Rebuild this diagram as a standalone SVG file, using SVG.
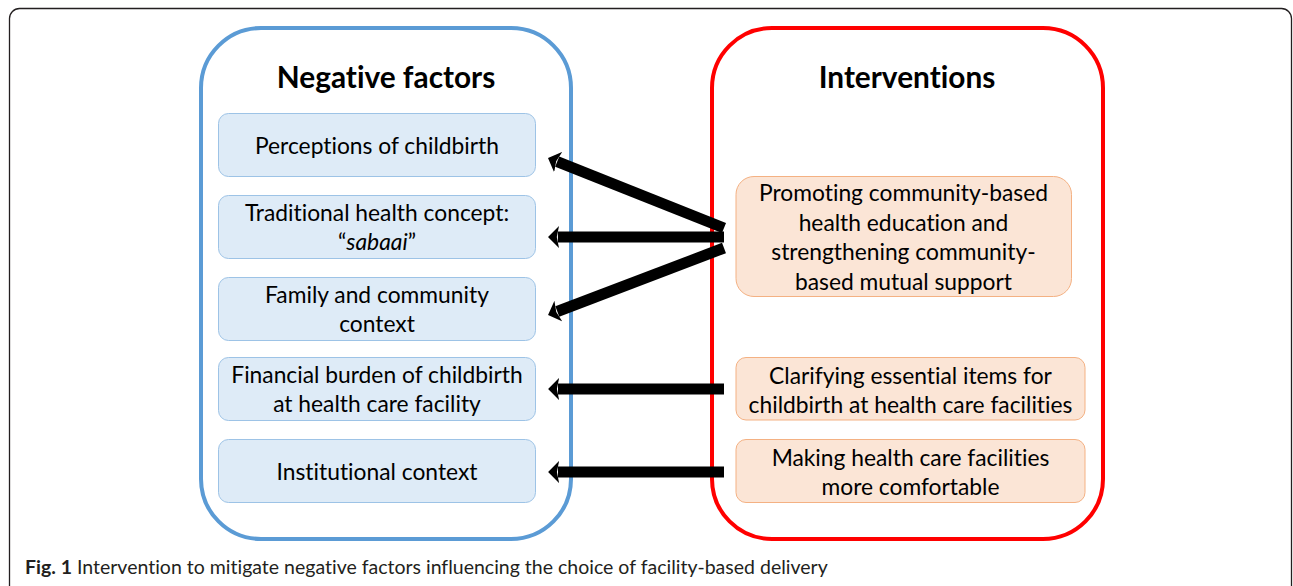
<svg xmlns="http://www.w3.org/2000/svg" width="1293" height="586" viewBox="0 0 1293 586">
<style>
  text{font-variant-ligatures:none;font-feature-settings:"liga" 0}
  .frame{fill:#fff;stroke:#231f20;stroke-width:1.3}
  .neg{fill:none;stroke:#5B9BD5;stroke-width:4}
  .int{fill:none;stroke:#FF0000;stroke-width:4}
  .nbox{fill:#DEEBF7;stroke:#9DC3E6;stroke-width:1}
  .ibox{fill:#FBE5D6;stroke:#F4B183;stroke-width:1}
  .head{font-family:Lato,"Open Sans",sans-serif;font-weight:bold;font-size:29.8px;fill:#000;text-anchor:middle}
  .lbl{font-family:Lato,"Open Sans",sans-serif;font-size:22.8px;fill:#000;text-anchor:middle}
  .cap{font-family:Lato,"Open Sans",sans-serif;font-size:19.5px;fill:#231f20}
  .arr{stroke:#000;stroke-width:11;fill:none;marker-end:url(#head)}
</style>
<defs>
  <marker id="head" viewBox="0 0 10 20" refX="1" refY="10" markerWidth="1" markerHeight="2" orient="auto" markerUnits="strokeWidth">
    <path d="M0,0 L10,10 L0,20 L2,10 Z" fill="#000"/>
  </marker>
</defs>
<rect class="frame" x="9.5" y="8.5" width="1282" height="590" rx="10"/>

<g id="negative-factors">
  <rect class="neg" x="201" y="28" width="370" height="511" rx="60"/>
  <text class="head" x="386" y="88">Negative factors</text>
</g>
<g id="interventions">
  <rect class="int" x="712" y="28" width="391" height="511" rx="60"/>
  <text class="head" x="907" y="88">Interventions</text>
</g>

<g id="n1">
  <rect class="nbox" x="218.5" y="113.5" width="317" height="63" rx="10"/>
  <text class="lbl" x="377" y="154">Perceptions of childbirth</text>
</g>
<g id="n2">
  <rect class="nbox" x="218.5" y="195.5" width="317" height="63" rx="10"/>
  <text class="lbl" x="377" y="221">Traditional health concept:</text>
  <text class="lbl" x="377" y="250">“<tspan font-style="italic">sabaai</tspan>”</text>
</g>
<g id="n3">
  <rect class="nbox" x="218.5" y="277.5" width="317" height="63" rx="10"/>
  <text class="lbl" x="377" y="303">Family and community</text>
  <text class="lbl" x="377" y="332">context</text>
</g>
<g id="n4">
  <rect class="nbox" x="218.5" y="357.5" width="317" height="63" rx="10"/>
  <text class="lbl" x="377" y="383">Financial burden of childbirth</text>
  <text class="lbl" x="377" y="412">at health care facility</text>
</g>
<g id="n5">
  <rect class="nbox" x="218.5" y="439.5" width="317" height="63" rx="10"/>
  <text class="lbl" x="377" y="480">Institutional context</text>
</g>

<g id="i1">
  <rect class="ibox" x="736" y="176.5" width="335.5" height="120" rx="18"/>
  <text class="lbl" x="903.5" y="201">Promoting community-based</text>
  <text class="lbl" x="903.5" y="231">health education and</text>
  <text class="lbl" x="903.5" y="260">strengthening community-</text>
  <text class="lbl" x="903.5" y="290">based mutual support</text>
</g>
<g id="i2">
  <rect class="ibox" x="736" y="357.5" width="349" height="62.5" rx="10"/>
  <text class="lbl" x="910.5" y="384">Clarifying essential items for</text>
  <text class="lbl" x="910.5" y="413">childbirth at health care facilities</text>
</g>
<g id="i3">
  <rect class="ibox" x="736" y="439.5" width="349" height="63" rx="10"/>
  <text class="lbl" x="910.5" y="466">Making health care facilities</text>
  <text class="lbl" x="910.5" y="495">more comfortable</text>
</g>

<g id="connectors">
  <path class="arr" d="M724,228 L557.2,161.7"/>
  <path class="arr" d="M724,237 L557.9,237"/>
  <path class="arr" d="M724,248 L557.3,311.5"/>
  <path class="arr" d="M724,389 L558,389"/>
  <path class="arr" d="M724,472 L558,472"/>
</g>

<text class="cap" x="25" y="574"><tspan font-weight="bold">Fig. 1</tspan> Intervention to mitigate negative factors influencing the choice of facility-based delivery</text>
</svg>
